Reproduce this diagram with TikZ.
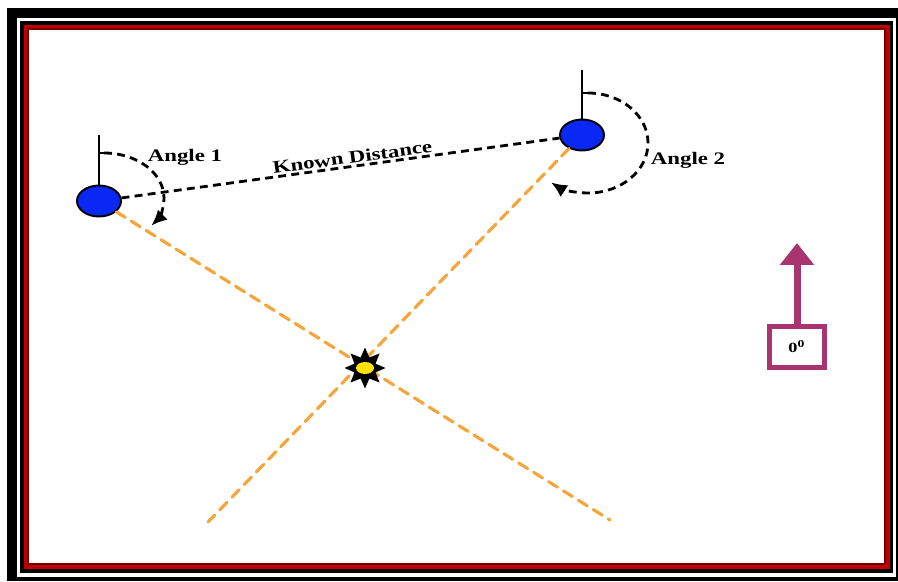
\documentclass[tikz,border=0pt]{standalone}
\usepackage{fontspec}
\setmainfont{Liberation Serif}
\usetikzlibrary{arrows.meta, shapes.geometric}

\definecolor{rayorange}{RGB}{245,165,60}
\definecolor{framered}{RGB}{192,0,0}
\definecolor{northpurple}{RGB}{168,52,112}
\definecolor{stnblue}{RGB}{10,40,245}

% text is set a bit wide
\newcommand{\widetext}[1]{\scalebox{1.3}[1]{#1}}

\begin{document}
\begin{tikzpicture}[x=0.02cm, y=-0.02cm,
    station/.style={ellipse, draw=black, line width=1.1pt, fill=stnblue,
        minimum width=0.88cm, minimum height=0.62cm, inner sep=0pt},
    bearing/.style={line width=1.6pt, dash pattern=on 4.5pt off 3pt},
    ray/.style={rayorange, line width=1.8pt, dash pattern=on 6pt off 4pt, line cap=round},
    tag/.style={font=\bfseries\fontsize{10}{12}\selectfont, inner sep=1pt}]
    \useasboundingbox (0,0) rectangle (898,581);

    % Frame
    \fill[black] (7,8) rectangle (898,581);
    \fill[white] (17,18) rectangle (896,577);
    \fill[black] (20,21) rectangle (893,573);
    \fill[framered] (24,25) rectangle (890,569);
    \draw[framered!60!black, line width=1pt] (28,29) rectangle (885,564);
    \fill[white] (29,30) rectangle (884,563);

    % Stations
    \node[station] (stnA) at (99,201) {};
    \node[station] (stnB) at (582,135) {};

    % North marks on the stations
    \coordinate (nA) at (99,135);
    \coordinate (nB) at (582,70);
    \draw[line width=0.9pt] (stnA.north) -- (nA);
    \draw[line width=0.9pt] (stnB.north) -- (nB);
    \draw[line width=0.9pt] (99,153) -- (104,153);
    \draw[line width=0.9pt] (582,93) -- (588,93);

    % Rays to the target
    \coordinate (endA) at (610,520);
    \coordinate (endB) at (208,522);
    \draw[ray] (stnA) -- (endA);
    \draw[ray] (stnB) -- (endB);

    % Baseline between stations
    \draw[bearing] (stnA) -- node[tag, sloped, above, pos=0.53] {\widetext{Known Distance}} (stnB);

    % Angles
    \draw[bearing, -{Latex[length=9pt, width=8pt]}] (104,153)
        arc[start angle=-90, end angle=38, x radius=60, y radius=45];
    \draw[bearing, -{Latex[length=9pt, width=8pt]}] (588,93)
        arc[start angle=-90, end angle=128, x radius=60, y radius=50];
    \node[tag] (angA) at (185,157) {\widetext{Angle 1}};
    \node[tag] (angB) at (688,160) {\widetext{Angle 2}};

    % Target
    \node[star, star points=8, star point ratio=1.8, fill=black,
        minimum size=0.82cm, inner sep=0pt] (target) at (365,368) {};
    \fill[yellow!85!orange] (target.center) ellipse [x radius=9, y radius=6];

    % North arrow
    \node[draw=northpurple, line width=3.2pt, minimum width=1.1cm, minimum height=0.82cm,
        inner sep=0pt, font=\bfseries\fontsize{8}{10}\selectfont] (north) at (797,347)
        {\widetext{0\textsuperscript{0}}};
    \coordinate (ntip) at (797,243);
    \draw[northpurple, line width=4pt, -{Triangle[length=0.44cm, width=0.66cm]}] (north) -- (ntip);
\end{tikzpicture}
\end{document}
